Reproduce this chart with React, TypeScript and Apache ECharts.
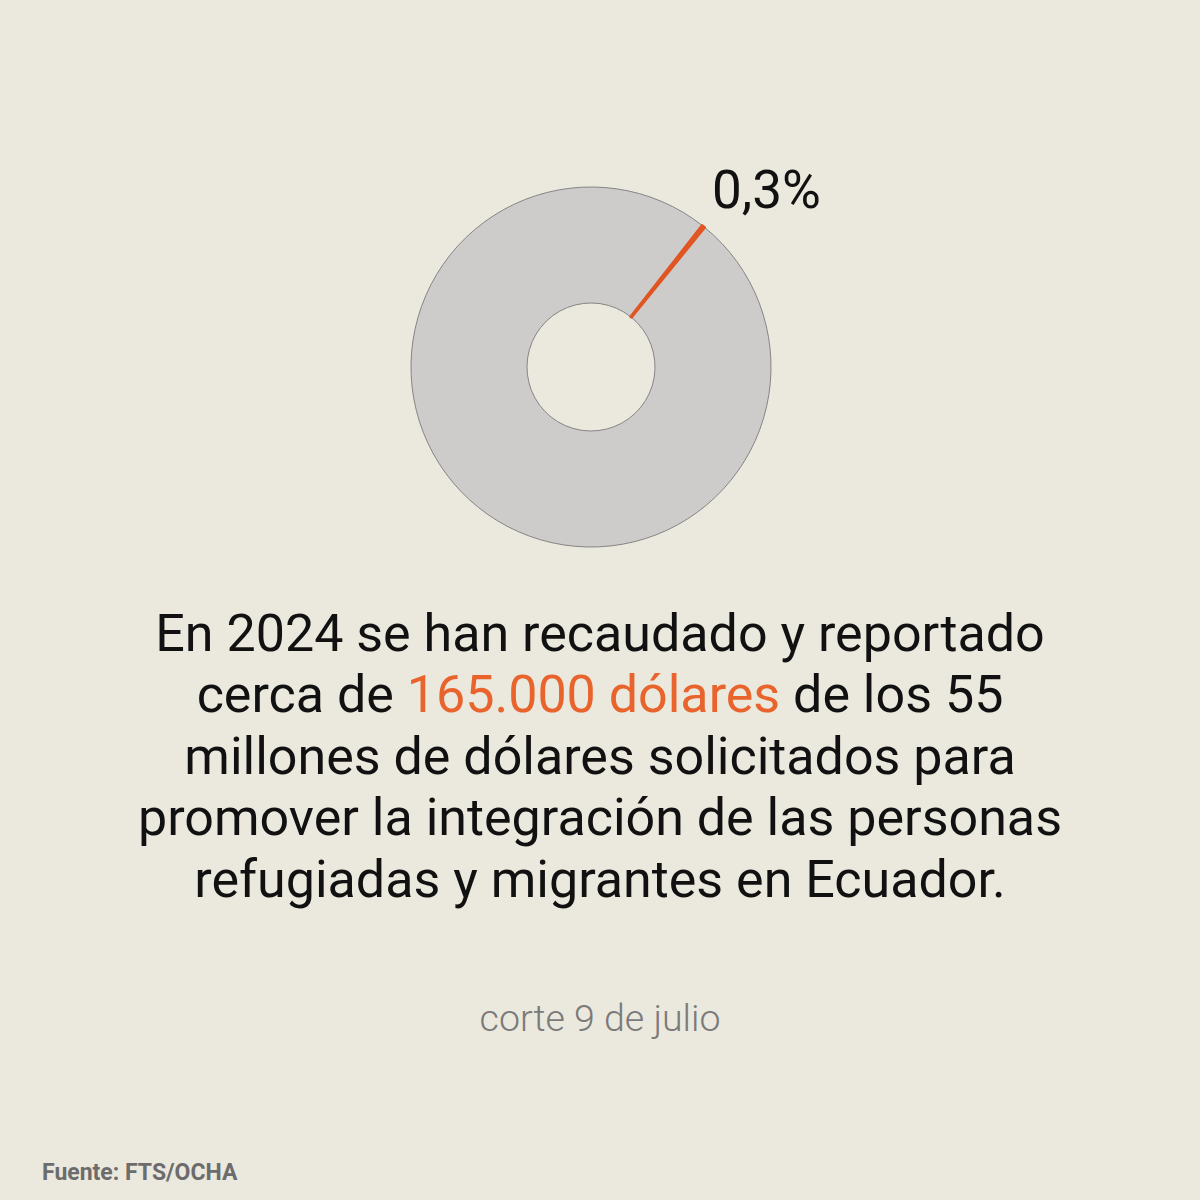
import React, { useEffect, useRef } from "react";
import * as echarts from "echarts";

const sliceNames = ["Pendiente", "Recaudado"];
const sliceValues = [99.7, 0.3];
const sliceLabel = "0,3%";
const mainLines = [
  "En 2024 se han recaudado y reportado",
  "cerca de {o|165.000 dólares} de los 55",
  "millones de dólares solicitados para",
  "promover la integración de las personas",
  "refugiadas y migrantes en Ecuador.",
];
const noteText = "corte 9 de julio";
const sourceText = "Fuente: FTS/OCHA";

export default function App() {
  const ref = useRef<HTMLDivElement>(null);
  useEffect(() => {
    document.body.style.margin = "0";
    const chart = echarts.init(ref.current!, null, { renderer: "svg" });
    const colors = ["#cdcccb", "#e85a22"];
    chart.setOption({
      animation: false,
      backgroundColor: "#ebe8dd",
      series: [
        {
          type: "pie",
          center: [591, 367],
          radius: [64, 180],
          startAngle: 50.8,
          clockwise: true,
          silent: true,
          label: { show: false },
          labelLine: { show: false },
          data: sliceNames.map((n, i) => ({
            name: n,
            value: sliceValues[i],
            itemStyle: {
              color: colors[i],
              borderColor: i === 1 ? "#e05522" : "#858585",
              borderWidth: i === 1 ? 2.5 : 1,
            },
          })),
        },
      ],
      graphic: [
        {
          type: "text",
          left: 712,
          top: 163,
          style: {
            text: sliceLabel,
            font: "53px Roboto",
            fill: "#111111",
          },
        },
        ...mainLines.map((line, i) => ({
          type: "text",
          x: 600,
          y: 633 + i * 61.5,
          style: {
            text: line,
            fontFamily: "Roboto",
            fontSize: 52,
            fill: "#111111",
            align: "center",
            verticalAlign: "middle",
            rich: {
              o: { fontFamily: "Roboto", fontSize: 52, fill: "#e8642c", color: "#e8642c" },
            },
          },
        })),
        {
          type: "text",
          x: 600,
          y: 1018,
          style: {
            text: noteText,
            fontFamily: "Roboto",
            fontWeight: 300,
            fontSize: 37.5,
            fill: "#7a7a7a",
            align: "center",
            verticalAlign: "middle",
          },
        },
        {
          type: "text",
          x: 42,
          y: 1172,
          style: {
            text: sourceText,
            fontFamily: "Roboto",
            fontWeight: "bold",
            fontSize: 23,
            fill: "#6c6c6c",
            align: "left",
            verticalAlign: "middle",
          },
        },
      ],
    });
    return () => chart.dispose();
  }, []);
  return <div ref={ref} style={{ width: 1200, height: 1200 }} />;
}
